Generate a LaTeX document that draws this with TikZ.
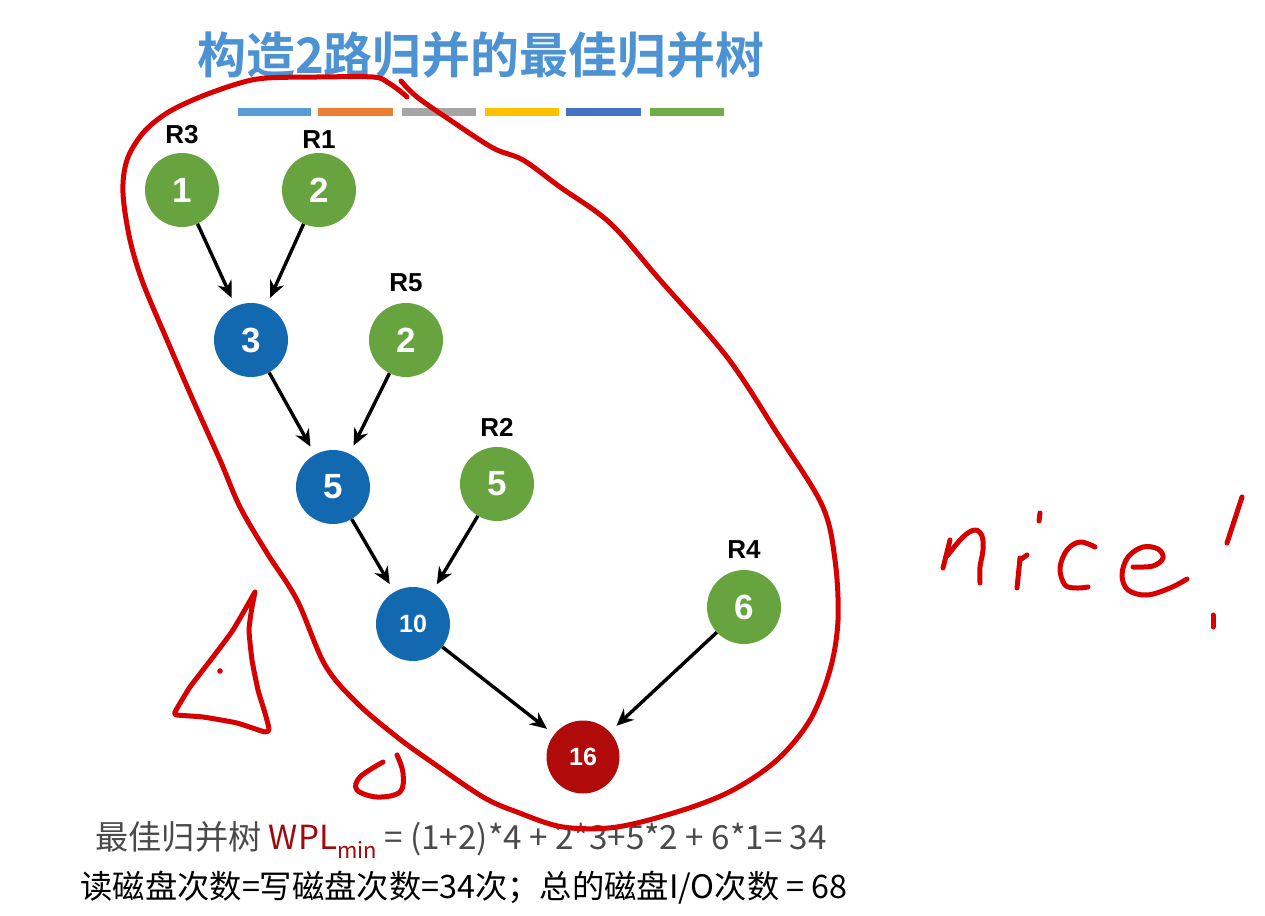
\documentclass[tikz,border=0pt]{standalone}
\usepackage{fontspec}
\setmainfont{Liberation Sans}
\newfontfamily\cjk{Noto Sans CJK SC}
\newfontfamily\cjkbold{Noto Sans CJK SC Bold}
\usetikzlibrary{arrows.meta}
\definecolor{titleblue}{HTML}{4D93D3}
\definecolor{barA}{HTML}{5B9BD5}
\definecolor{barB}{HTML}{ED7D31}
\definecolor{barC}{HTML}{A5A5A5}
\definecolor{barD}{HTML}{FFC000}
\definecolor{barE}{HTML}{4472C4}
\definecolor{barF}{HTML}{70AD47}
\definecolor{leafgreen}{HTML}{67A33F}
\definecolor{midblue}{HTML}{1269B0}
\definecolor{rootred}{HTML}{B00A0A}
\definecolor{inkred}{RGB}{215,0,0}
\definecolor{wplred}{HTML}{A00A0A}
\definecolor{textgray}{HTML}{4A4A4A}
\tikzset{
  leaf/.style={circle,fill=leafgreen,minimum size=74pt,inner sep=0pt,text=white,font=\bfseries\fontsize{35}{38}\selectfont},
  inner/.style={circle,fill=midblue,minimum size=74pt,inner sep=0pt,text=white,font=\bfseries\fontsize{35}{38}\selectfont},
  innersmall/.style={inner,font=\bfseries\fontsize{25}{28}\selectfont},
  rootnode/.style={circle,fill=rootred,minimum size=73pt,inner sep=0pt,text=white,font=\bfseries\fontsize{25}{28}\selectfont},
  runlabel/.style={font=\bfseries\fontsize{26}{30}\selectfont,text=black},
  merge/.style={draw=black,line width=3.4pt,-{Stealth[length=17pt,width=15pt]},shorten >=9pt},
  ink/.style={draw=inkred,line width=5pt,line cap=round,line join=round},
  bar/.style={line width=7.5pt}
}
\begin{document}
\begin{tikzpicture}[x=1pt,y=-1pt]
\useasboundingbox (0,0) rectangle (1265,915);
\fill[white] (0,0) rectangle (1265,915);
% title
\node[text=titleblue,font=\cjkbold\fontsize{49}{56}\selectfont] (title) at (481,55) {构造2路归并的最佳归并树};
% colour bars
\draw[bar,barA] (238,112) -- (311,112);
\draw[bar,barB] (318,112) -- (393,112);
\draw[bar,barC] (402,112) -- (476,112);
\draw[bar,barD] (485,112) -- (559,112);
\draw[bar,barE] (566,112) -- (641,112);
\draw[bar,barF] (650,112) -- (724,112);
% nodes
\node[leaf] (r3) at (182,190) {1};
\node[leaf] (r1) at (319,190) {2};
\node[inner] (n3) at (251,340) {3};
\node[leaf] (r5) at (406,340) {2};
\node[inner] (n5) at (333,487) {5};
\node[leaf] (r2) at (497,484) {5};
\node[innersmall] (n10) at (413,624) {10};
\node[leaf] (r4) at (744,607) {6};
\node[rootnode] (n16) at (583,757) {16};
% run labels
\node[runlabel] (l3) at (182,135) {R3};
\node[runlabel] (l1) at (319,140) {R1};
\node[runlabel] (l5) at (406,283) {R5};
\node[runlabel] (l2) at (497,427) {R2};
\node[runlabel] (l4) at (744,550) {R4};
% edges
\draw[merge] (r3) -- (n3);
\draw[merge] (r1) -- (n3);
\draw[merge] (n3) -- (n5);
\draw[merge] (r5) -- (n5);
\draw[merge] (n5) -- (n10);
\draw[merge] (r2) -- (n10);
\draw[merge] (n10) -- (n16);
\draw[merge] (r4) -- (n16);
% bottom text
\node[anchor=west,text=textgray,font=\cjk\fontsize{33.2}{38}\selectfont] (wpl) at (92,840) {最佳归并树 \textcolor{wplred}{WPL\raisebox{-0.25em}{\fontsize{22}{26}\selectfont min}} = (1+2)*4 + 2*3+5*2 + 6*1= 34};
\node[anchor=west,text=black,font=\cjk\fontsize{32.3}{38}\selectfont] (io) at (77,888) {读磁盘次数=写磁盘次数=34次；总的磁盘I/O次数 = 68};
% hand-drawn loop
\draw[ink] plot[smooth,tension=0.55] coordinates {(407,97) (400,91) (387,82) (373,77) (317,77) (267,78) (240,83) (200,97) (167,113) (143,133) (127,160) (123,193) (130,240) (143,283) (167,340) (193,400) (220,460) (240,507) (267,553) (297,600) (325,665) (357,703) (397,737) (433,763) (483,797) (517,812) (563,827) (617,827) (683,810) (733,790) (777,760) (810,720) (830,670) (838,620) (835,560) (822,505) (777,433) (727,357) (660,280) (610,223) (560,187) (523,160) (493,148) (450,120) (417,97) (401,81)};
% triangle
\draw[ink] plot[smooth,tension=0.3] coordinates {(255,592) (233,630) (213,657) (190,687) (175,712) (177,715) (203,717) (237,723) (265,732) (269,729) (265,713) (258,690) (252,660) (249,630) (252,607) (255,592)};
\fill[inkred] (220,671) circle (2.8pt);
% small U
\draw[ink] plot[smooth,tension=0.6] coordinates {(383,762) (360,777) (357,790) (377,797) (400,792) (403,773) (397,755)};
% nice!
\draw[ink] (950,540) -- (943,568);
\draw[ink] plot[smooth,tension=0.6] coordinates {(947,556) (963,537) (975,530) (982,536) (983,550) (980,567) (980,583)};
\draw[ink] (1020,558) -- (1017,588);
\draw[ink] (1020,560) -- (1027,555);
\draw[ink] (1040,513) -- (1039,521);
\draw[ink] plot[smooth,tension=0.6] coordinates {(1095,547) (1080,542) (1067,550) (1060,568) (1065,585) (1077,588) (1088,587)};
\draw[ink] plot[smooth,tension=0.6] coordinates {(1133,567) (1153,566) (1163,558) (1158,549) (1143,547) (1128,557) (1122,575) (1128,590) (1147,595) (1170,588) (1187,579)};
\draw[ink] (1242,497) -- (1227,543);
\draw[ink] (1213,615) -- (1213,627);
\end{tikzpicture}
\end{document}
